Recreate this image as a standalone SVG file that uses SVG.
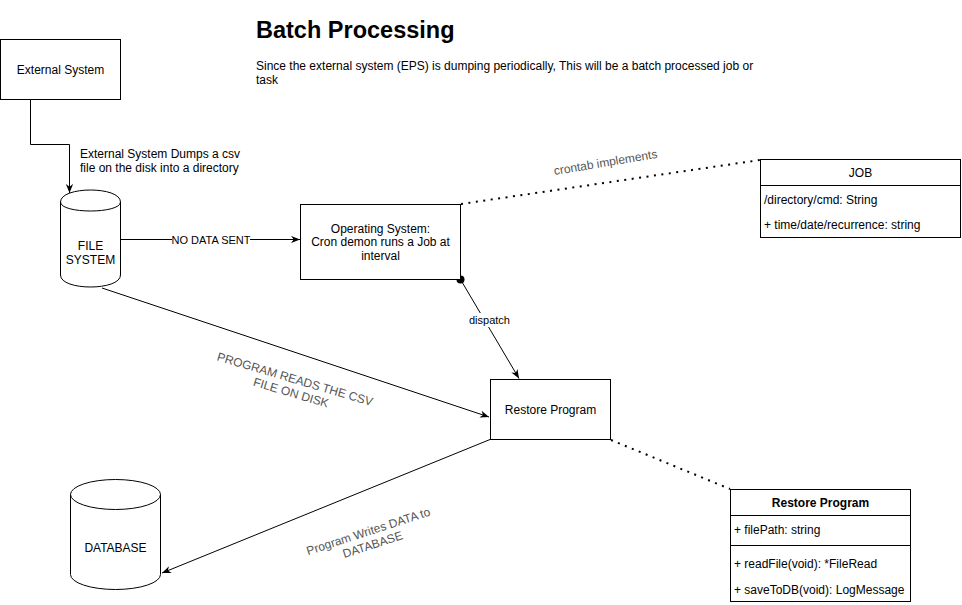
<svg xmlns="http://www.w3.org/2000/svg" width="962" height="605" viewBox="0 0 962 605">
<defs>
<style>
text{font-family:"Liberation Sans",Arial,Helvetica,sans-serif;font-size:12px;fill:#000}
.c{text-anchor:middle}
.e{font-size:11px}
.rot{fill:#555}
.box{fill:#fff;stroke:#000;stroke-width:1}
.ln{fill:none;stroke:#000;stroke-width:1}
.dot{fill:none;stroke:#000;stroke-width:2;stroke-dasharray:2 5.5}
.bold{font-weight:bold}
</style>
<marker id="arr" viewBox="0 0 10 8" refX="10" refY="4" markerWidth="9" markerHeight="7.2" orient="auto" markerUnits="userSpaceOnUse">
<path d="M0,0 L10,4 L0,8 L3,4 Z" fill="#000"/>
</marker>
</defs>
<rect width="962" height="605" fill="#fff"/>

<g id="title">
<text x="256" y="37.5" class="bold" style="font-size:23.5px">Batch Processing</text>
<text x="256" y="69.5">Since the external system (EPS) is dumping periodically, This will be a batch processed job or</text>
<text x="256" y="83.5">task</text>
</g>

<g id="connectors">
<path class="ln" d="M30.5,99.5 V144.5 H69.5 V193" marker-end="url(#arr)"/>
<path class="ln" d="M120.5,239.5 H300" marker-end="url(#arr)"/>
<path class="ln" d="M460.5,279.5 L519,378.5" marker-end="url(#arr)"/>
<circle cx="460.5" cy="279.5" r="4" fill="#000"/>
<path class="ln" d="M102,288 L489,417" marker-end="url(#arr)"/>
<path class="ln" d="M490,439.5 L162,573" marker-end="url(#arr)"/>
<path class="dot" d="M461,204 L760,160"/>
<path class="dot" d="M611,440 L730,489"/>

<text x="80" y="158">External System Dumps a csv</text>
<text x="80" y="172">file on the disk into a directory</text>
<rect x="172" y="232" width="78" height="14" fill="#fff"/>
<text x="211" y="243.5" class="c e">NO DATA SENT</text>
<rect x="469" y="313" width="41" height="14" fill="#fff"/>
<text x="489.5" y="324" class="c e">dispatch</text>
<text class="c rot" transform="translate(605.5,162.5) rotate(-9.5)" x="0" y="4">crontab implements</text>
<g class="rot" transform="translate(293,386) rotate(16.5)">
<text class="c rot" x="0" y="-3">PROGRAM READS THE CSV</text>
<text class="c rot" x="0" y="11">FILE ON DISK</text>
</g>
<g transform="translate(370.5,538) rotate(-18)">
<text class="c rot" x="0" y="-3">Program Writes DATA to</text>
<text class="c rot" x="0" y="11">DATABASE</text>
</g>
</g>

<g id="external-system">
<rect class="box" x="0.5" y="39.5" width="120" height="60"/>
<text x="60.5" y="73.5" class="c">External System</text>
</g>

<g id="file-system">
<path class="box" d="M60.5,202 C60.5,186 120.5,186 120.5,202 L120.5,275 C120.5,291 60.5,291 60.5,275 Z"/>
<path class="ln" d="M60.5,202 C60.5,214 120.5,214 120.5,202"/>
<text x="90.5" y="250" class="c">FILE</text>
<text x="90.5" y="264" class="c">SYSTEM</text>
</g>

<g id="operating-system">
<rect class="box" x="300.5" y="204.5" width="160" height="75"/>
<text x="380.5" y="232.5" class="c">Operating System:</text>
<text x="380.5" y="246" class="c">Cron demon runs a Job at</text>
<text x="380.5" y="259.5" class="c">interval</text>
</g>

<g id="restore-program">
<rect class="box" x="490.5" y="379.5" width="120" height="60"/>
<text x="550.5" y="414" class="c">Restore Program</text>
</g>

<g id="database">
<path class="box" d="M70.5,494.5 A45,15 0 0 1 160.5,494.5 L160.5,574.5 A45,15 0 0 1 70.5,574.5 Z"/>
<path class="ln" d="M70.5,494.5 A45,15 0 0 0 160.5,494.5"/>
<text x="115.5" y="552" class="c">DATABASE</text>
</g>

<g id="job">
<rect class="box" x="760.5" y="159.5" width="200" height="78"/>
<path class="ln" d="M760.5,185.5 H960.5"/>
<text x="860.5" y="177" class="c">JOB</text>
<text x="764" y="204">/directory/cmd: String</text>
<text x="764" y="229">+ time/date/recurrence: string</text>
</g>

<g id="restore-program-class">
<rect class="box" x="730.5" y="489.5" width="180" height="112"/>
<path class="ln" d="M730.5,515.5 H910.5 M730.5,545.5 H910.5"/>
<text x="820.5" y="507" class="c bold">Restore Program</text>
<text x="734" y="533.5">+ filePath: string</text>
<text x="734" y="567.5">+ readFile(void): *FileRead</text>
<text x="734" y="593.5">+ saveToDB(void): LogMessage</text>
</g>
</svg>
